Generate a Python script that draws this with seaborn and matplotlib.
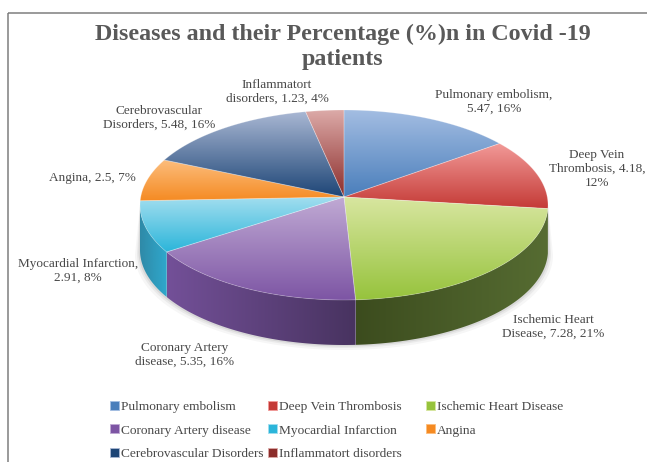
import numpy as np
import matplotlib
matplotlib.use("Agg")
import matplotlib.pyplot as plt
import seaborn as sns
from matplotlib.colors import LinearSegmentedColormap
from matplotlib.patches import Polygon, Rectangle

categories = ["Pulmonary embolism", "Deep Vein Thrombosis", "Ischemic Heart Disease",
              "Coronary Artery disease", "Myocardial Infarction", "Angina",
              "Cerebrovascular Disorders", "Inflammatort disorders"]
values = [5.47, 4.18, 7.28, 5.35, 2.91, 2.5, 5.48, 1.23]
label_texts = ["Pulmonary embolism,\n5.47, 16%", "Deep Vein\nThrombosis, 4.18,\n12%",
               "Ischemic Heart\nDisease, 7.28, 21%", "Coronary Artery\ndisease, 5.35, 16%",
               "Myocardial Infarction,\n2.91, 8%", "Angina, 2.5, 7%",
               "Cerebrovascular\nDisorders, 5.48, 16%", "Inflammatort\ndisorders, 1.23, 4%"]
label_xy = [(494, 102), (597, 169), (553, 327), (185, 355), (78, 271), (92, 178), (159, 118), (277, 92)]
top_light = ["#a3bde2", "#f29a98", "#d8e6a0", "#c0aad4", "#a2deef", "#fcbd7c", "#aab8d4", "#dcaaa8"]
top_deep = ["#4a7ebb", "#c43a36", "#96c33c", "#7d55a4", "#2bb5da", "#f58a22", "#1d4576", "#8b2c2a"]
side_a = ["#2e5a90", "#8f2a28", "#3c4c1e", "#735098", "#2f8aa8", "#b86818", "#16345a", "#681f1f"]
side_b = ["#2e5a90", "#8f2a28", "#566c32", "#483360", "#2fa8cc", "#b86818", "#16345a", "#681f1f"]
title_text = "Diseases and their Percentage (%)n in Covid -19\npatients"

sns.set_theme(style="white")
plt.rcParams["font.family"] = ["Liberation Serif", "DejaVu Serif"]
TEXT = "#484848"

W, H = 647, 462
fig = plt.figure(figsize=(W / 100, H / 100), dpi=100, facecolor="white")
ax = fig.add_axes([0, 0, 1, 1])

# the library lays out the slices; their angles then go through a tilted projection
wedges, _ = ax.pie(values, startangle=90, counterclock=False, radius=1)
clock = [(90 - w.theta2, 90 - w.theta1) for w in wedges]
for w in wedges:
    w.remove()
ax.set_aspect("auto")

CX, CY, APEX, RX, RY, SHIFT, DEPTH = 344, 205, 197, 204, 95, 9, 45


def warp(c):
    return c - SHIFT * np.sin(np.radians(c))


def rim(c):
    r = np.radians(c)
    return CX + RX * np.sin(r), CY - RY * np.cos(r)


def gradient(ax, poly, colors, z, vertical=True):
    cmap = LinearSegmentedColormap.from_list("g", colors)
    xs, ys = poly[:, 0], poly[:, 1]
    ramp = np.linspace(0, 1, 256)
    arr = ramp.reshape(-1, 1) if vertical else ramp.reshape(1, -1)
    im = ax.imshow(arr, cmap=cmap, vmin=0, vmax=1, aspect="auto", origin="upper", zorder=z,
                   extent=(xs.min(), xs.max(), ys.max(), ys.min()), interpolation="bilinear")
    patch = Polygon(poly, closed=True, transform=ax.transData, fc="none", ec="none")
    ax.add_patch(patch)
    im.set_clip_path(patch)


# soft shadow under the disc
tt = np.linspace(90, 270, 120)
for grow, alpha in [(5, 0.07), (3, 0.10), (1.5, 0.16)]:
    px, py = rim(tt)
    ax.fill(np.r_[CX + (px - CX) * (RX + grow) / RX, px[::-1]],
            np.r_[py + DEPTH + grow, py[::-1]], color="#808080", alpha=alpha, lw=0, zorder=1)

# side wall: only the rim between the two silhouette points faces the viewer
for (c1, c2), a, b in zip(clock, side_a, side_b):
    lo, hi = max(warp(c1), 90), min(warp(c2), 270)
    if hi <= lo:
        continue
    px, py = rim(np.linspace(lo, hi, 60))
    poly = np.column_stack([np.r_[px, px[::-1]], np.r_[py, py[::-1] + DEPTH]])
    gradient(ax, poly, [a, b], 2, vertical=False)

# top face
for (c1, c2), a, b in zip(clock, top_light, top_deep):
    px, py = rim(warp(np.linspace(c1, c2, 90)))
    poly = np.column_stack([np.r_[CX, px], np.r_[APEX, py]])
    gradient(ax, poly, [a, b], 3, vertical=True)
    ax.plot(np.r_[CX, px, CX], np.r_[APEX, py, APEX], color="#ffffff", alpha=0.25, lw=0.6, zorder=4)

for txt, (x, y) in zip(label_texts, label_xy):
    ax.text(x, y, txt, ha="center", va="center", fontsize=9.5, color=TEXT, linespacing=1.22, zorder=6)

ax.text(343, 47, title_text, ha="center", va="center", fontsize=17.3, fontweight="bold",
        color="#595959", linespacing=1.2, zorder=6)

# frame: the chart area runs off the right and bottom of the picture
ax.add_patch(Rectangle((8, 13), 700, 500, fc="none", ec="#7f7f7f", lw=1.1, zorder=5))

# legend: three columns, each with its own left edge
columns = [([0, 3, 6], 110), ([1, 4, 7], 268), ([2, 5], 426)]
for idx, left in columns:
    handles = [Rectangle((0, 0), 1, 1, fc=top_deep[i], ec=top_light[i], lw=0.6) for i in idx]
    leg = ax.legend(handles, [categories[i] for i in idx], ncol=1, frameon=False,
                    loc="upper left", bbox_to_anchor=(left / W, 1 - 401 / H), fontsize=9.6,
                    labelcolor=TEXT, handlelength=0.65, handleheight=0.65, handletextpad=0.2,
                    labelspacing=0.85, borderpad=0, borderaxespad=0)
    ax.add_artist(leg)
    ax.legend_ = None

ax.set_xlim(0, W)
ax.set_ylim(H, 0)
ax.axis("off")
fig.savefig("out.png", dpi=100, facecolor="white")
